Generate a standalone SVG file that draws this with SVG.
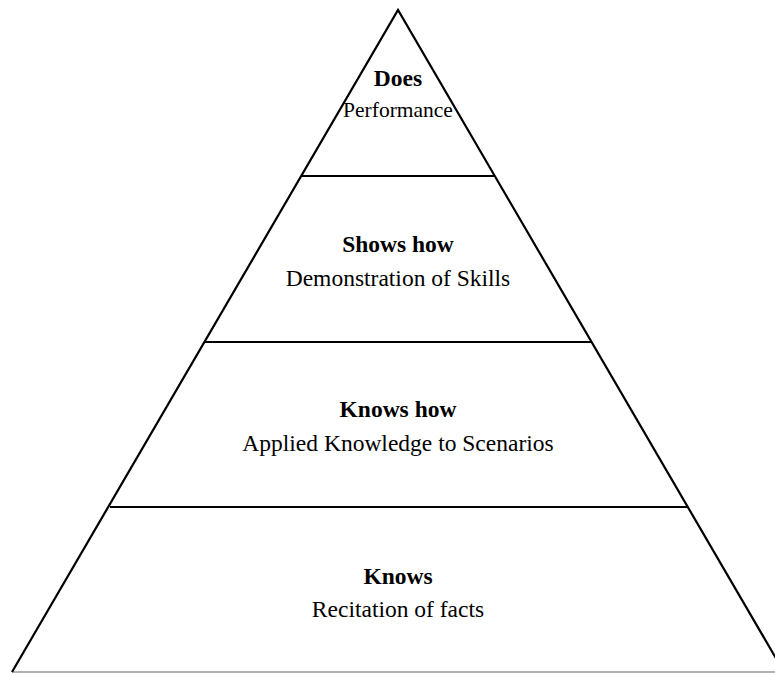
<svg xmlns="http://www.w3.org/2000/svg" width="775" height="673" viewBox="0 0 775 673">
<style>
.edge{stroke:#000;stroke-width:2.2;fill:none;stroke-linejoin:miter}
.sep{stroke:#000;stroke-width:2.2}
.t{font-family:"Liberation Serif","Times New Roman",serif;font-size:23.5px;fill:#000;text-anchor:middle}
.b{font-weight:bold}
.s{font-size:21.5px}
</style>
<rect width="775" height="673" fill="#fff"/>
<g id="connectors">
<line x1="12" y1="672" x2="775" y2="672" stroke="#999" stroke-width="1.5"/>
<polyline class="edge" points="12,672 398,10 784,672"/>
<line class="sep" x1="301" y1="176" x2="495" y2="176"/>
<line class="sep" x1="205" y1="342" x2="592" y2="342"/>
<line class="sep" x1="110" y1="507" x2="687" y2="507"/>
</g>
<g id="does">
<text class="t b" x="398" y="86">Does</text>
<text class="t s" x="398" y="117">Performance</text>
</g>
<g id="shows-how">
<text class="t b" x="398" y="252">Shows how</text>
<text class="t" x="398" y="286">Demonstration of Skills</text>
</g>
<g id="knows-how">
<text class="t b" x="398" y="417">Knows how</text>
<text class="t" x="398" y="451">Applied Knowledge to Scenarios</text>
</g>
<g id="knows">
<text class="t b" x="398" y="584">Knows</text>
<text class="t" x="398" y="617">Recitation of facts</text>
</g>
</svg>
